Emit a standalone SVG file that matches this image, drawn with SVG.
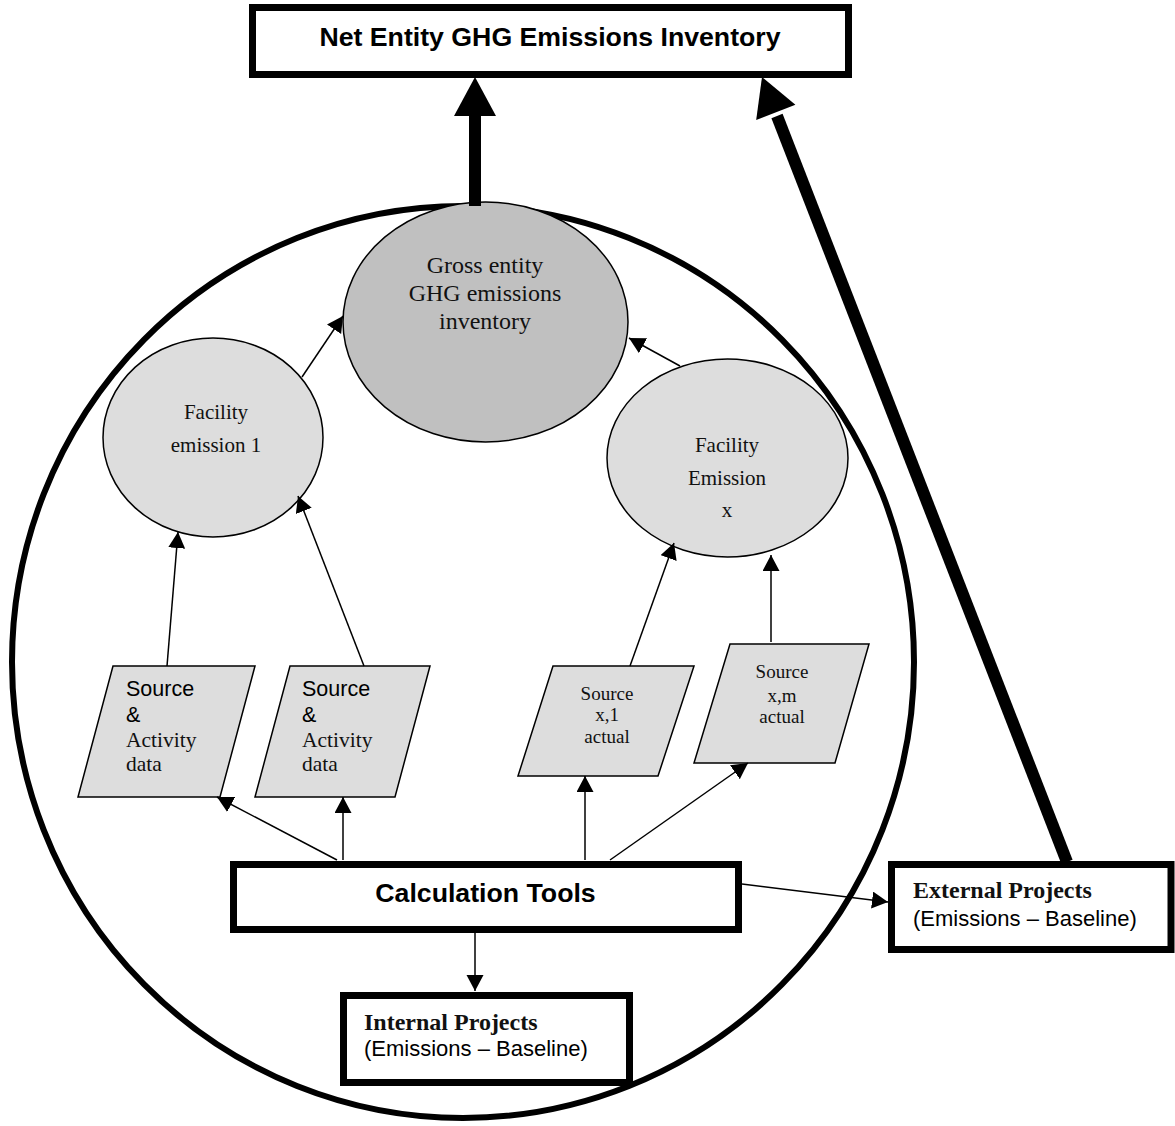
<svg xmlns="http://www.w3.org/2000/svg" width="1175" height="1126" viewBox="0 0 1175 1126">
<style>
.box{fill:#fff;stroke:#000;stroke-width:7}
.ell{stroke:#000;stroke-width:1.5}
.para{fill:#dddddd;stroke:#000;stroke-width:1.5}
.thin{stroke:#000;stroke-width:1.5;fill:none;marker-end:url(#ah)}
.thick{stroke:#000;fill:none}
.serif{font-family:"Liberation Serif","Times New Roman",serif;fill:#111}
.sans{font-family:"Liberation Sans",Arial,sans-serif;fill:#000}
</style>
<defs>
<marker id="ah" markerUnits="userSpaceOnUse" markerWidth="17" markerHeight="18" refX="16" refY="8.5" orient="auto">
<path d="M0,0 L16,8.5 L0,17 z" fill="#000"/>
</marker>
</defs>
<rect width="1175" height="1126" fill="#fff"/>
<g id="boundary">
<ellipse cx="463" cy="662" rx="451" ry="456" fill="none" stroke="#000" stroke-width="6"/>
</g>
<g id="net-inventory">
<rect class="box" x="252.5" y="7.5" width="596" height="67"/>
<text class="sans" x="550" y="46" font-size="26.7" font-weight="bold" text-anchor="middle">Net Entity GHG Emissions Inventory</text>
</g>
<g id="gross">
<ellipse class="ell" cx="485.5" cy="322" rx="142.5" ry="120" fill="#c0c0c0"/>
<text class="serif" font-size="24" text-anchor="middle"><tspan x="485" y="273">Gross entity</tspan><tspan x="485" y="301">GHG emissions</tspan><tspan x="485" y="329">inventory</tspan></text>
</g>
<g id="facility1">
<ellipse class="ell" cx="213" cy="437.5" rx="110" ry="99.5" fill="#dddddd"/>
<text class="serif" font-size="21" text-anchor="middle"><tspan x="216" y="419">Facility</tspan><tspan x="216" y="452">emission 1</tspan></text>
</g>
<g id="facilityx">
<ellipse class="ell" cx="727.5" cy="458" rx="120.5" ry="99" fill="#dddddd"/>
<text class="serif" font-size="21" text-anchor="middle"><tspan x="727" y="452">Facility</tspan><tspan x="727" y="485">Emission</tspan><tspan x="727" y="517">x</tspan></text>
</g>
<g id="source1">
<polygon class="para" points="113,666 255,666 220,797 78,797"/>
<text class="sans" font-size="21.5" x="126" y="696">Source</text>
<text class="sans" font-size="21.5" x="126" y="722">&amp;</text>
<text class="serif" font-size="21.5" x="126" y="747">Activity</text>
<text class="serif" font-size="21.5" x="126" y="771">data</text>
</g>
<g id="source2">
<polygon class="para" points="290,666 430,666 395,797 255,797"/>
<text class="sans" font-size="21.5" x="302" y="696">Source</text>
<text class="sans" font-size="21.5" x="302" y="722">&amp;</text>
<text class="serif" font-size="21.5" x="302" y="747">Activity</text>
<text class="serif" font-size="21.5" x="302" y="771">data</text>
</g>
<g id="sourcex1">
<polygon class="para" points="553,666 694,666 658,776 518,776"/>
<text class="serif" font-size="19" text-anchor="middle"><tspan x="607" y="700">Source</tspan><tspan x="607" y="721">x,1</tspan><tspan x="607" y="743">actual</tspan></text>
</g>
<g id="sourcexm">
<polygon class="para" points="730,644 869,644 835,763 694,763"/>
<text class="serif" font-size="19" text-anchor="middle"><tspan x="782" y="678">Source</tspan><tspan x="782" y="702">x,m</tspan><tspan x="782" y="723">actual</tspan></text>
</g>
<g id="calc-tools">
<rect class="box" x="233.5" y="864.5" width="505" height="65"/>
<text class="sans" x="485.5" y="902" font-size="26.7" font-weight="bold" text-anchor="middle">Calculation Tools</text>
</g>
<g id="internal">
<rect class="box" x="343.5" y="995.5" width="286" height="87"/>
<text class="serif" x="364" y="1030" font-size="24" font-weight="bold" fill="#000">Internal Projects</text>
<text class="sans" x="364" y="1056" font-size="22">(Emissions – Baseline)</text>
</g>
<g id="external">
<rect class="box" x="891.5" y="864.5" width="279.5" height="85"/>
<text class="serif" x="913" y="898" font-size="24" font-weight="bold" fill="#000">External Projects</text>
<text class="sans" x="913" y="926" font-size="22">(Emissions – Baseline)</text>
</g>
<g id="connectors">
<line class="thick" x1="475" y1="206" x2="475" y2="112" stroke-width="12"/>
<polygon points="475,77 454,116 496,116" fill="#000"/>
<line class="thick" x1="1067" y1="862" x2="777" y2="116" stroke-width="12"/>
<polygon points="762,77 795.4,104.8 756.2,120" fill="#000"/>
<line class="thin" x1="302" y1="377" x2="343" y2="316"/>
<line class="thin" x1="680" y1="366" x2="629" y2="338"/>
<line class="thin" x1="167" y1="666" x2="178" y2="532"/>
<line class="thin" x1="364" y1="666" x2="298" y2="496"/>
<line class="thin" x1="630" y1="666" x2="674" y2="543"/>
<line class="thin" x1="771" y1="642" x2="771" y2="555"/>
<line class="thin" x1="337" y1="860" x2="217" y2="797"/>
<line class="thin" x1="343" y1="860" x2="343" y2="797"/>
<line class="thin" x1="585" y1="860" x2="585" y2="776"/>
<line class="thin" x1="610" y1="860" x2="748" y2="763"/>
<line class="thin" x1="475" y1="933" x2="475" y2="991"/>
<line class="thin" x1="742" y1="884" x2="888" y2="902"/>
</g>
</svg>
